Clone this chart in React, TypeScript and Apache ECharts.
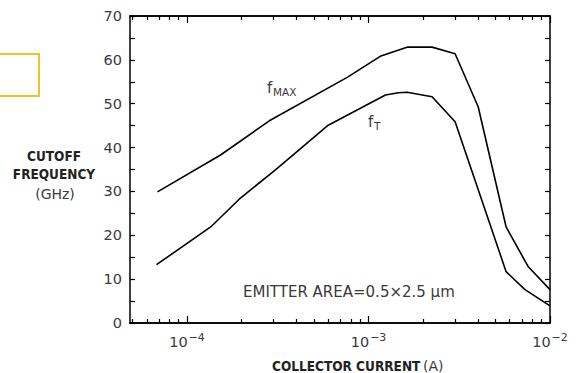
import React, { useEffect, useRef } from "react";
import * as echarts from "echarts";

// Collector current (A) and cutoff frequencies (GHz)
const currentMax = [6.87e-5, 1.53e-4, 2.84e-4, 7.63e-4, 1.16e-3, 1.63e-3, 2.24e-3, 3.0e-3, 4.02e-3, 5.73e-3, 7.57e-3, 1.0e-2];
const fMaxValues = [29.9, 38.3, 46.1, 56.0, 60.8, 62.9, 62.9, 61.4, 49.3, 21.9, 12.9, 7.6];

const currentT = [6.79e-5, 1.35e-4, 1.97e-4, 3.07e-4, 6.0e-4, 1.24e-3, 1.46e-3, 1.63e-3, 2.24e-3, 3.0e-3, 5.73e-3, 7.28e-3, 1.0e-2];
const fTValues = [13.3, 21.9, 28.5, 34.9, 45.1, 52.0, 52.5, 52.6, 51.6, 45.9, 11.7, 7.6, 3.9];

const xMin = 4.85e-5;
const xMax = 1e-2;
const majorDecades = [1e-4, 1e-3, 1e-2];
const yTicks = [0, 10, 20, 30, 40, 50, 60, 70];

const FONT = "DejaVu Sans";
const TXT = "#3a3a3a";

export default function App() {
  const ref = useRef<HTMLDivElement>(null);
  useEffect(() => {
    if (!ref.current) return;
    const chart = echarts.init(ref.current, null, { renderer: "svg" });
    const lg = (v: number) => Math.log10(v);
    const majors = majorDecades.map(lg);
    const minors: number[] = [];
    for (let e = -5; e <= -3; e++) {
      for (let m = 2; m <= 9; m++) {
        const v = m * Math.pow(10, e);
        if (v >= xMin && v <= xMax) minors.push(lg(v));
      }
    }
    const baseX = (pos: string, vals: number[], len: number, labels: boolean) => ({
      type: "value",
      position: pos,
      min: lg(xMin),
      max: lg(xMax),
      splitLine: { show: false },
      axisLine: { show: true, lineStyle: { color: "#000", width: 1.5 } },
      axisTick: { show: true, inside: true, length: len, customValues: vals, lineStyle: { color: "#000", width: 1.2 } },
      axisLabel: labels
        ? {
            show: true,
            customValues: vals,
            margin: 9,
            formatter: (v: number) => `{a|10}{b|−${Math.round(-v)}}`,
            rich: {
              a: { fontFamily: FONT, fontSize: 14.5, color: TXT },
              b: { fontFamily: FONT, fontSize: 11, color: TXT, padding: [0, 0, 8, 1] },
            },
          }
        : { show: false },
    });
    const baseY = (pos: string, labels: boolean) => ({
      type: "value",
      position: pos,
      min: 0,
      max: 70,
      interval: 5,
      splitLine: { show: false },
      axisLine: { show: true, lineStyle: { color: "#000", width: 1.5 } },
      axisTick: { show: true, inside: true, length: 5, lineStyle: { color: "#000", width: 1.2 } },
      axisLabel: labels
        ? {
            show: true,
            margin: 8,
            fontFamily: FONT,
            fontSize: 14.5,
            color: TXT,
            formatter: (v: number) => (yTicks.indexOf(v) >= 0 ? String(v) : ""),
          }
        : { show: false },
    });
    chart.setOption({
      animation: false,
      grid: { left: 130, right: 28, top: 16, bottom: 50, containLabel: false },
      xAxis: [
        baseX("bottom", majors, 7, true),
        baseX("bottom", minors, 4, false),
        baseX("top", majors, 7, false),
        baseX("top", minors, 4, false),
      ],
      yAxis: [baseY("left", true), baseY("right", false)],
      series: [
        {
          type: "line",
          name: "fMAX",
          xAxisIndex: 0,
          yAxisIndex: 0,
          data: currentMax.map((c, i) => [lg(c), fMaxValues[i]]),
          showSymbol: false,
          lineStyle: { color: "#000", width: 1.6 },
        },
        {
          type: "line",
          name: "fT",
          xAxisIndex: 0,
          yAxisIndex: 0,
          data: currentT.map((c, i) => [lg(c), fTValues[i]]),
          showSymbol: false,
          lineStyle: { color: "#000", width: 1.6 },
        },
      ],
      graphic: [
        {
          type: "rect",
          shape: { x: -6, y: 54, width: 45, height: 42 },
          style: { fill: "none", stroke: "#F7C01E", lineWidth: 2 },
        },
        {
          type: "text",
          x: 54,
          y: 156,
          style: { text: "CUTOFF", font: `bold 13.5px "DejaVu Sans Condensed"`, fill: "#222", align: "center", verticalAlign: "middle" },
        },
        {
          type: "text",
          x: 54,
          y: 174,
          style: { text: "FREQUENCY", font: `bold 13.5px "DejaVu Sans Condensed"`, fill: "#222", align: "center", verticalAlign: "middle" },
        },
        {
          type: "text",
          x: 55,
          y: 194,
          style: { text: "(GHz)", font: `14px "${FONT}"`, fill: TXT, align: "center", verticalAlign: "middle" },
        },
        {
          type: "text",
          x: 272,
          y: 366,
          style: { text: "COLLECTOR CURRENT", font: `bold 13.5px "DejaVu Sans Condensed"`, fill: "#222", align: "left", verticalAlign: "middle" },
        },
        {
          type: "text",
          x: 423,
          y: 366,
          style: { text: "(A)", font: `14px "${FONT}"`, fill: TXT, align: "left", verticalAlign: "middle" },
        },
        {
          type: "text",
          x: 243,
          y: 292,
          style: { text: "EMITTER AREA=0.5×2.5 μm", font: `15px "${FONT}"`, fill: TXT, align: "left", verticalAlign: "middle" },
        },
        {
          type: "text",
          x: 267,
          y: 88,
          style: { text: "f", font: `15px "${FONT}"`, fill: TXT, align: "left", verticalAlign: "middle" },
        },
        {
          type: "text",
          x: 273,
          y: 92,
          style: { text: "MAX", font: `10.5px "${FONT}"`, fill: TXT, align: "left", verticalAlign: "middle" },
        },
        {
          type: "text",
          x: 368,
          y: 122,
          style: { text: "f", font: `15px "${FONT}"`, fill: TXT, align: "left", verticalAlign: "middle" },
        },
        {
          type: "text",
          x: 374,
          y: 126,
          style: { text: "T", font: `10.5px "${FONT}"`, fill: TXT, align: "left", verticalAlign: "middle" },
        },
      ],
    });
    return () => chart.dispose();
  }, []);
  return (
    <div
      ref={ref}
      style={{ position: "fixed", left: 0, top: 0, width: 578, height: 373, background: "#fff" }}
    />
  );
}
